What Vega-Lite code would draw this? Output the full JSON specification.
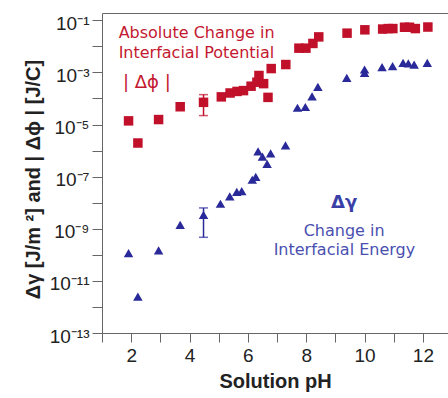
{
  "$schema": "https://vega.github.io/schema/vega-lite/v6.json",
  "width": 346,
  "height": 320,
  "autosize": {"type": "none"},
  "padding": {"left": 102, "top": 13, "right": 0, "bottom": 65},
  "config": {
    "view": {"stroke": null},
    "font": "Liberation Sans",
    "axis": {"grid": false, "domainColor": "#666", "tickColor": "#666", "labelColor": "#222", "titleColor": "#222", "labelFont": "Liberation Sans", "titleFont": "Liberation Sans"}
  },
  "datasets": {
    "pts": [
      {"pH": 1.91, "v": 1.38e-5, "s": "phi"},
      {"pH": 2.23, "v": 1.95e-6, "s": "phi"},
      {"pH": 2.94, "v": 1.55e-5, "s": "phi"},
      {"pH": 3.68, "v": 4.8e-5, "s": "phi"},
      {"pH": 4.48, "v": 7.1e-5, "s": "phi"},
      {"pH": 5.09, "v": 1.15e-4, "s": "phi"},
      {"pH": 5.39, "v": 1.62e-4, "s": "phi"},
      {"pH": 5.63, "v": 1.86e-4, "s": "phi"},
      {"pH": 5.85, "v": 2.0e-4, "s": "phi"},
      {"pH": 6.11, "v": 2.95e-4, "s": "phi"},
      {"pH": 6.31, "v": 4.2e-4, "s": "phi"},
      {"pH": 6.38, "v": 7.6e-4, "s": "phi"},
      {"pH": 6.54, "v": 3.7e-4, "s": "phi"},
      {"pH": 6.69, "v": 1.1e-4, "s": "phi"},
      {"pH": 6.80, "v": 1.4e-3, "s": "phi"},
      {"pH": 7.30, "v": 2.0e-3, "s": "phi"},
      {"pH": 7.75, "v": 8.5e-3, "s": "phi"},
      {"pH": 7.99, "v": 8.5e-3, "s": "phi"},
      {"pH": 8.23, "v": 1.29e-2, "s": "phi"},
      {"pH": 8.43, "v": 2.3e-2, "s": "phi"},
      {"pH": 9.40, "v": 3.2e-2, "s": "phi"},
      {"pH": 10.01, "v": 4.3e-2, "s": "phi"},
      {"pH": 10.62, "v": 4.6e-2, "s": "phi"},
      {"pH": 10.81, "v": 4.8e-2, "s": "phi"},
      {"pH": 10.97, "v": 4.8e-2, "s": "phi"},
      {"pH": 11.37, "v": 5.4e-2, "s": "phi"},
      {"pH": 11.54, "v": 5.4e-2, "s": "phi"},
      {"pH": 11.74, "v": 4.8e-2, "s": "phi"},
      {"pH": 12.17, "v": 5.5e-2, "s": "phi"},
      {"pH": 1.91, "v": 1.17e-10, "s": "gamma"},
      {"pH": 2.23, "v": 2.5e-12, "s": "gamma"},
      {"pH": 2.94, "v": 1.48e-10, "s": "gamma"},
      {"pH": 3.68, "v": 1.4e-9, "s": "gamma"},
      {"pH": 4.48, "v": 3.4e-9, "s": "gamma"},
      {"pH": 5.06, "v": 9.1e-9, "s": "gamma"},
      {"pH": 5.38, "v": 1.74e-8, "s": "gamma"},
      {"pH": 5.62, "v": 2.6e-8, "s": "gamma"},
      {"pH": 5.79, "v": 2.8e-8, "s": "gamma"},
      {"pH": 6.15, "v": 7.6e-8, "s": "gamma"},
      {"pH": 6.27, "v": 9.8e-8, "s": "gamma"},
      {"pH": 6.35, "v": 9.3e-7, "s": "gamma"},
      {"pH": 6.50, "v": 5.9e-7, "s": "gamma"},
      {"pH": 6.66, "v": 3.1e-7, "s": "gamma"},
      {"pH": 6.78, "v": 7.8e-7, "s": "gamma"},
      {"pH": 7.29, "v": 1.58e-6, "s": "gamma"},
      {"pH": 7.70, "v": 4.4e-5, "s": "gamma"},
      {"pH": 7.97, "v": 4.7e-5, "s": "gamma"},
      {"pH": 8.20, "v": 1.2e-4, "s": "gamma"},
      {"pH": 8.40, "v": 2.8e-4, "s": "gamma"},
      {"pH": 9.39, "v": 6.2e-4, "s": "gamma"},
      {"pH": 10.00, "v": 1.29e-3, "s": "gamma"},
      {"pH": 10.00, "v": 9.5e-4, "s": "gamma"},
      {"pH": 10.60, "v": 1.59e-3, "s": "gamma"},
      {"pH": 10.96, "v": 1.74e-3, "s": "gamma"},
      {"pH": 11.32, "v": 2.3e-3, "s": "gamma"},
      {"pH": 11.50, "v": 2.2e-3, "s": "gamma"},
      {"pH": 11.70, "v": 2.0e-3, "s": "gamma"},
      {"pH": 12.15, "v": 2.3e-3, "s": "gamma"}
    ],
    "err": [
      {"pH": 4.48, "lo": 2.2e-5, "hi": 1.4e-4, "s": "phi"},
      {"pH": 4.48, "lo": 4.7e-10, "hi": 6.3e-9, "s": "gamma"}
    ],
    "labels": [
      {"pH": 1.57, "v": 0.0331, "t": "Absolute Change in", "s": "phi", "k": "small"},
      {"pH": 1.57, "v": 0.00562, "t": "Interfacial Potential", "s": "phi", "k": "small"},
      {"pH": 1.72, "v": 3.98e-4, "t": "| Δϕ |", "s": "phi", "k": "big"},
      {"pH": 9.30, "v": 1.0e-8, "t": "Δγ", "s": "gamma", "k": "big"},
      {"pH": 9.30, "v": 7.9e-10, "t": "Change in", "s": "gamma", "k": "small"},
      {"pH": 9.31, "v": 1.58e-10, "t": "Interfacial Energy", "s": "gamma", "k": "small"}
    ]
  },
  "layer": [
    {
      "data": {"name": "pts"},
      "mark": {"type": "point", "filled": true, "size": 90, "opacity": 1},
      "encoding": {
        "x": {
          "field": "pH", "type": "quantitative",
          "scale": {"domain": [1, 12.86], "nice": false, "zero": false},
          "axis": {
            "values": [1, 2, 3, 4, 5, 6, 7, 8, 9, 10, 11, 12],
            "labelExpr": "datum.value % 2 == 0 ? datum.label : ''",
            "tickSize": 9, "labelFontSize": 19, "labelPadding": 4,
            "title": "Solution pH", "titleFontSize": 20, "titleFontWeight": "bold", "titlePadding": 6
          }
        },
        "y": {
          "field": "v", "type": "quantitative",
          "title": "Δγ [J/m ²] and | Δϕ | [J/C]",
          "scale": {"type": "log", "domain": [1e-13, 0.19], "nice": false},
          "axis": {
            "values": [1e-13, 1e-12, 1e-11, 1e-10, 1e-9, 1e-8, 1e-7, 1e-6, 1e-5, 1e-4, 1e-3, 1e-2, 1e-1],
            "labelExpr": "abs(round(log(datum.value)/LN10)) % 2 == 1 ? '10' + replace(replace(replace(replace(replace(replace('' + round(log(datum.value)/LN10), '-', '⁻'), regexp('1','g'), '¹'), regexp('3','g'), '³'), regexp('5','g'), '⁵'), regexp('7','g'), '⁷'), regexp('9','g'), '⁹') : ''",
            "tickSize": 10, "labelFontSize": 19, "labelPadding": 3, "labelOffset": 3,
            "titleFontSize": 20, "titleFontWeight": "bold",
            "titleX": -69, "titleY": 166, "titleAlign": "center", "titleBaseline": "middle", "titleAngle": -90
          }
        },
        "shape": {"field": "s", "type": "nominal", "scale": {"domain": ["phi", "gamma"], "range": ["square", "triangle-up"]}, "legend": null},
        "color": {"field": "s", "type": "nominal", "scale": {"domain": ["phi", "gamma"], "range": ["#C0102A", "#29299A"]}, "legend": null}
      }
    },
    {
      "data": {"name": "err"},
      "mark": {"type": "errorbar", "ticks": {"size": 9}, "thickness": 1.5},
      "encoding": {
        "x": {"field": "pH", "type": "quantitative", "axis": null},
        "y": {"field": "lo", "type": "quantitative", "title": "Δγ [J/m ²] and | Δϕ | [J/C]"},
        "y2": {"field": "hi"},
        "color": {"field": "s", "type": "nominal", "scale": {"domain": ["phi", "gamma"], "range": ["#D03A50", "#4A4FB0"]}, "legend": null}
      }
    },
    {
      "data": {"name": "labels"},
      "transform": [{"filter": "datum.k == 'small' && datum.s == 'phi'"}],
      "mark": {"type": "text", "font": "DejaVu Sans", "fontSize": 16, "align": "left", "baseline": "middle", "color": "#C41830"},
      "encoding": {
        "x": {"field": "pH", "type": "quantitative", "axis": {"orient": "top", "labels": false, "ticks": false, "title": null, "domainColor": "#666"}},
        "y": {"field": "v", "type": "quantitative", "title": "Δγ [J/m ²] and | Δϕ | [J/C]"},
        "text": {"field": "t"}
      }
    },
    {
      "data": {"name": "labels"},
      "transform": [{"filter": "datum.k == 'big' && datum.s == 'phi'"}],
      "mark": {"type": "text", "font": "DejaVu Sans", "fontSize": 18, "align": "left", "baseline": "middle", "color": "#C41830"},
      "encoding": {
        "x": {"field": "pH", "type": "quantitative", "axis": null},
        "y": {"field": "v", "type": "quantitative", "title": "Δγ [J/m ²] and | Δϕ | [J/C]"},
        "text": {"field": "t"}
      }
    },
    {
      "data": {"name": "labels"},
      "transform": [{"filter": "datum.k == 'small' && datum.s == 'gamma'"}],
      "mark": {"type": "text", "font": "DejaVu Sans", "fontSize": 16, "align": "center", "baseline": "middle", "color": "#4A4FB0"},
      "encoding": {
        "x": {"field": "pH", "type": "quantitative", "axis": null},
        "y": {"field": "v", "type": "quantitative", "title": "Δγ [J/m ²] and | Δϕ | [J/C]"},
        "text": {"field": "t"}
      }
    },
    {
      "data": {"name": "labels"},
      "transform": [{"filter": "datum.k == 'big' && datum.s == 'gamma'"}],
      "mark": {"type": "text", "font": "DejaVu Sans", "fontSize": 18, "fontWeight": "bold", "align": "center", "baseline": "middle", "color": "#3A3FA8"},
      "encoding": {
        "x": {"field": "pH", "type": "quantitative", "axis": null},
        "y": {"field": "v", "type": "quantitative", "title": "Δγ [J/m ²] and | Δϕ | [J/C]"},
        "text": {"field": "t"}
      }
    }
  ],
  "resolve": {"axis": {"x": "independent"}}
}
